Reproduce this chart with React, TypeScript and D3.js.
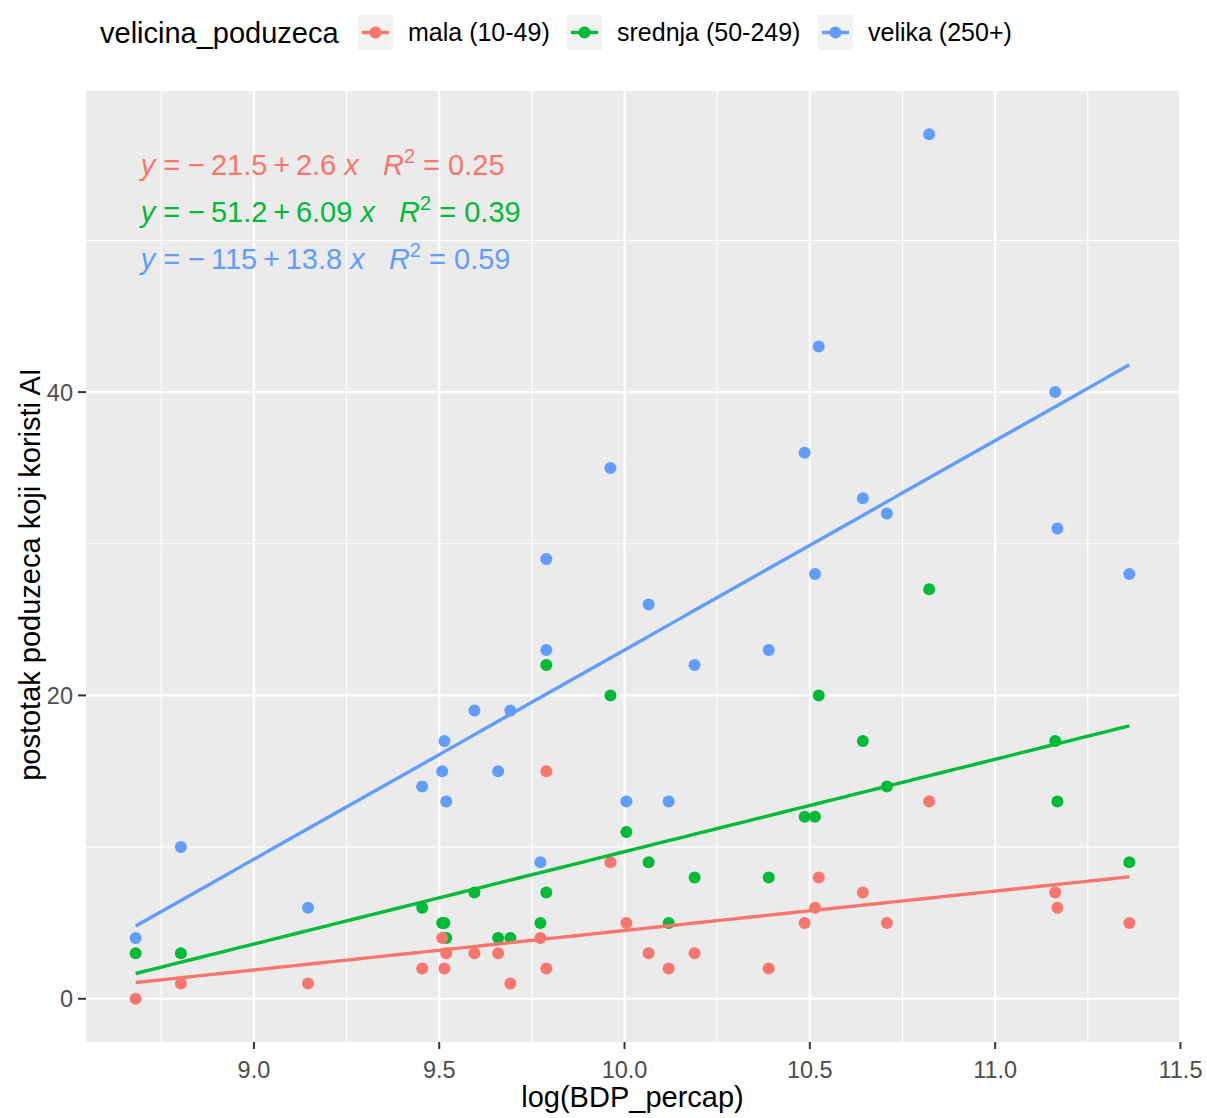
import React from 'react';
import * as d3 from 'd3';

const groups = ['mala (10-49)', 'srednja (50-249)', 'velika (250+)'];
const colors = ['#F8766D', '#00BA38', '#619CFF'];

const xMala = [8.681, 8.803, 9.146, 9.454, 9.508, 9.514, 9.519, 9.595, 9.659, 9.692, 9.773, 9.789, 9.789, 9.962, 10.005, 10.065, 10.119, 10.189, 10.389, 10.486, 10.514, 10.524, 10.643, 10.708, 10.822, 11.162, 11.168, 11.362];
const yMala = [0, 1, 1, 2, 4, 2, 3, 3, 3, 1, 4, 15, 2, 9, 5, 3, 2, 3, 2, 5, 6, 8, 7, 5, 13, 7, 6, 5];

const xSrednja = [8.681, 8.803, 9.454, 9.508, 9.514, 9.519, 9.595, 9.659, 9.692, 9.773, 9.789, 9.789, 9.962, 10.005, 10.065, 10.119, 10.189, 10.389, 10.486, 10.514, 10.524, 10.643, 10.708, 10.822, 11.162, 11.168, 11.362];
const ySrednja = [3, 3, 6, 5, 5, 4, 7, 4, 4, 5, 7, 22, 20, 11, 9, 5, 8, 8, 12, 12, 20, 17, 14, 27, 17, 13, 9];

const xVelika = [8.681, 8.803, 9.146, 9.454, 9.508, 9.514, 9.519, 9.595, 9.659, 9.692, 9.773, 9.789, 9.789, 9.962, 10.005, 10.065, 10.119, 10.189, 10.389, 10.486, 10.514, 10.524, 10.643, 10.708, 10.822, 11.162, 11.168, 11.362];
const yVelika = [4, 10, 6, 14, 15, 17, 13, 19, 15, 19, 9, 23, 29, 35, 13, 26, 13, 22, 23, 36, 28, 43, 33, 32, 57, 40, 31, 28];

const intercepts = [-21.5, -51.2, -115];
const slopes = [2.6, 6.09, 13.8];
const interceptLabels = ['21.5', '51.2', '115'];
const slopeLabels = ['2.6', '6.09', '13.8'];
const r2Labels = ['0.25', '0.39', '0.59'];

const xTicks = [9.0, 9.5, 10.0, 10.5, 11.0, 11.5];
const xMinor = [8.75, 9.25, 9.75, 10.25, 10.75, 11.25];
const yTicks = [0, 20, 40];
const yMinor = [10, 30, 50];

const legendTitle = 'velicina_poduzeca';
const xTitle = 'log(BDP_percap)';
const yTitle = 'postotak poduzeca koji koristi AI';

const W = 1207, H = 1118;
const P = { left: 86, right: 1179, top: 91, bottom: 1042 };
const FONT = '"Liberation Sans", Arial, sans-serif';
const TS = '\u2009';

export default function App() {
  const series = [
    { xs: xMala, ys: yMala },
    { xs: xSrednja, ys: ySrednja },
    { xs: xVelika, ys: yVelika },
  ];
  const allX = [...xMala, ...xSrednja, ...xVelika];
  const allY = [...yMala, ...ySrednja, ...yVelika];
  const [x0, x1] = d3.extent(allX) as [number, number];
  const [y0, y1] = d3.extent(allY) as [number, number];
  const ex = (x1 - x0) * 0.05, ey = (y1 - y0) * 0.05;
  const x = d3.scaleLinear().domain([x0 - ex, x1 + ex]).range([P.left, P.right]);
  const y = d3.scaleLinear().domain([y0 - ey, y1 + ey]).range([P.bottom, P.top]);
  const line = d3.line<[number, number]>().x(d => x(d[0])).y(d => y(d[1]));

  const drawOrder = [1, 2, 0];

  return (
    <div style={{ position: 'absolute', left: 0, top: 0 }}>
      <svg width={W} height={H} style={{ display: 'block', fontFamily: FONT }}>
        <rect x={0} y={0} width={W} height={H} fill="#ffffff" />
        <rect x={P.left} y={P.top} width={P.right - P.left} height={P.bottom - P.top} fill="#EBEBEB" />
        {xMinor.map(v => (
          <line key={'xm' + v} x1={x(v)} x2={x(v)} y1={P.top} y2={P.bottom} stroke="#fff" strokeWidth={1.1} />
        ))}
        {yMinor.map(v => (
          <line key={'ym' + v} y1={y(v)} y2={y(v)} x1={P.left} x2={P.right} stroke="#fff" strokeWidth={1.1} />
        ))}
        {xTicks.filter(v => x(v) <= P.right + 1.5).map(v => (
          <line key={'xg' + v} x1={x(v)} x2={x(v)} y1={P.top} y2={P.bottom} stroke="#fff" strokeWidth={2.2} />
        ))}
        {yTicks.map(v => (
          <line key={'yg' + v} y1={y(v)} y2={y(v)} x1={P.left} x2={P.right} stroke="#fff" strokeWidth={2.2} />
        ))}

        {drawOrder.map(gi => (
          <g key={'pts' + gi}>
            {series[gi].xs.map((xv, i) => (
              <circle key={i} cx={x(xv)} cy={y(series[gi].ys[i])} r={6} fill={colors[gi]} />
            ))}
          </g>
        ))}

        {series.map((s, gi) => {
          const [a, b] = d3.extent(s.xs) as [number, number];
          const pts: [number, number][] = d3.range(0, 81).map(k => {
            const xv = a + (b - a) * k / 80;
            return [xv, intercepts[gi] + slopes[gi] * xv];
          });
          return <path key={'ln' + gi} d={line(pts) || ''} fill="none" stroke={colors[gi]} strokeWidth={3.4} />;
        })}

        {groups.map((g, gi) => (
          <text key={'eq' + gi} x={P.left + 0.05 * (P.right - P.left)} y={175 + gi * 47}
            fontSize={29} fill={colors[gi]} style={{ whiteSpace: 'pre' }}>
            <tspan fontStyle="italic">y</tspan>
            <tspan>{' = \u2212' + TS + interceptLabels[gi] + TS + '+' + TS + slopeLabels[gi] + ' '}</tspan>
            <tspan fontStyle="italic">x</tspan>
            <tspan>{'   '}</tspan>
            <tspan fontStyle="italic">R</tspan>
            <tspan dy={-12} fontSize={20}>2</tspan>
            <tspan dy={12}>{' = ' + r2Labels[gi]}</tspan>
          </text>
        ))}

        {/* x axis */}
        {xTicks.map(v => (
          <g key={'xt' + v}>
            <line x1={x(v)} x2={x(v)} y1={P.bottom} y2={P.bottom + 7} stroke="#333" strokeWidth={2} />
            <text x={x(v)} y={1078} textAnchor="middle" fontSize={23.5} fill="#4D4D4D">{d3.format('.1f')(v)}</text>
          </g>
        ))}
        {yTicks.map(v => (
          <g key={'yt' + v}>
            <line x1={P.left - 8} x2={P.left} y1={y(v)} y2={y(v)} stroke="#333" strokeWidth={2} />
            <text x={P.left - 13} y={y(v) + 8.5} textAnchor="end" fontSize={23.5} fill="#4D4D4D">{v}</text>
          </g>
        ))}
        <text x={(P.left + P.right) / 2} y={1107} textAnchor="middle" fontSize={29} fill="#000">{xTitle}</text>
        <text transform={`translate(40,${(P.top + P.bottom) / 2 + 8}) rotate(-90)`} textAnchor="middle" fontSize={29} fill="#000">{yTitle}</text>

        {/* legend */}
        <text x={100} y={43} fontSize={29} fill="#000">{legendTitle}</text>
        {groups.map((g, gi) => {
          const kx = [358, 567, 818][gi];
          return (
            <g key={'lg' + gi}>
              <rect x={kx} y={15} width={35} height={35} fill="#F2F2F2" />
              <line x1={kx + 4} x2={kx + 31} y1={32.5} y2={32.5} stroke={colors[gi]} strokeWidth={3.4} />
              <circle cx={kx + 17.5} cy={32.5} r={6} fill={colors[gi]} />
              <text x={kx + 50} y={41} fontSize={25} fill="#000">{g}</text>
            </g>
          );
        })}
      </svg>
    </div>
  );
}
